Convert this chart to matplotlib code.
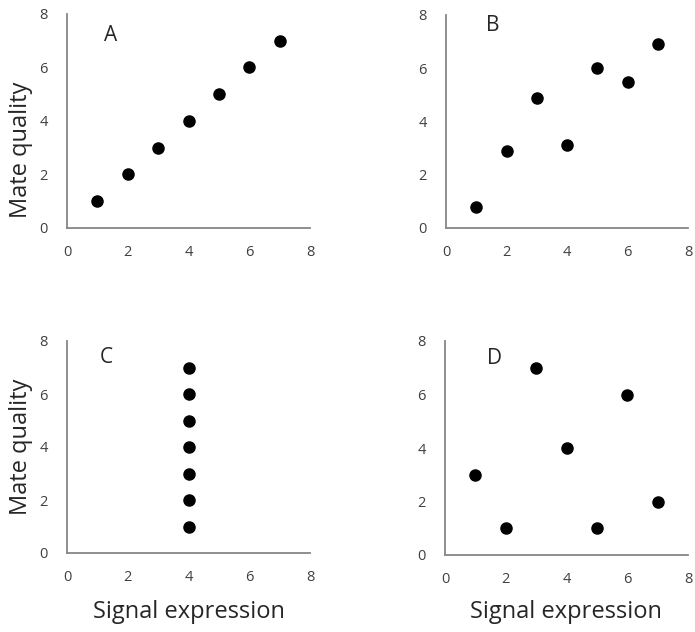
import numpy as np
import matplotlib.pyplot as plt

plt.rcParams['font.family'] = ['Open Sans', 'DejaVu Sans']

signal = [1, 2, 3, 4, 5, 6, 7]
quality_a = [1, 2, 3, 4, 5, 6, 7]
quality_b = [0.8, 2.9, 4.9, 3.1, 6.0, 5.5, 6.9]
signal_c = [4, 4, 4, 4, 4, 4, 4]
quality_c = [1, 2, 3, 4, 5, 6, 7]
quality_d = [3, 1, 7, 4, 1, 6, 2]
ticks = [0, 2, 4, 6, 8]

W, H = 695, 632
fig = plt.figure(figsize=(W / 100, H / 100), dpi=100)


def make_ax(x0, x1, ytop, ybot):
    return fig.add_axes([x0 / W, 1 - ybot / H, (x1 - x0) / W, (ybot - ytop) / H])


def fig_label(x, y, s, rot=0):
    fig.text(x / W, 1 - y / H, s, fontsize=17, color="#262626",
             ha="center", va="center", rotation=rot)


panels = [
    (make_ax(67, 310, 14, 228), signal, quality_a, "A", (0.18, 0.90)),
    (make_ax(446, 688, 15, 228), signal, quality_b, "B", (0.195, 0.95)),
    (make_ax(67, 310, 341, 553), signal_c, quality_c, "C", (0.16, 0.92)),
    (make_ax(445, 688, 341, 555), signal, quality_d, "D", (0.205, 0.92)),
]

for ax, xs, ys, letter, pos in panels:
    ax.scatter(xs, ys, s=64, color="black", zorder=3, clip_on=False)
    ax.set_xlim(0, 8)
    ax.set_ylim(0, 8)
    ax.set_xticks(ticks)
    ax.set_yticks(ticks)
    for side in ["top", "right"]:
        ax.spines[side].set_visible(False)
    for side in ["left", "bottom"]:
        ax.spines[side].set_color("#868686")
        ax.spines[side].set_linewidth(1.3)
    ax.tick_params(length=0, labelsize=10.5, labelcolor="#404040")
    ax.tick_params(axis="x", pad=12)
    ax.tick_params(axis="y", pad=14)
    ax.text(pos[0], pos[1], letter, transform=ax.transAxes, fontsize=15,
            color="#262626", ha="center", va="center")

fig_label(21, 150, "Mate quality", rot=90)
fig_label(21, 447, "Mate quality", rot=90)
fig_label(189, 612, "Signal expression")
fig_label(566, 612, "Signal expression")

plt.savefig("out.png", dpi=100)
